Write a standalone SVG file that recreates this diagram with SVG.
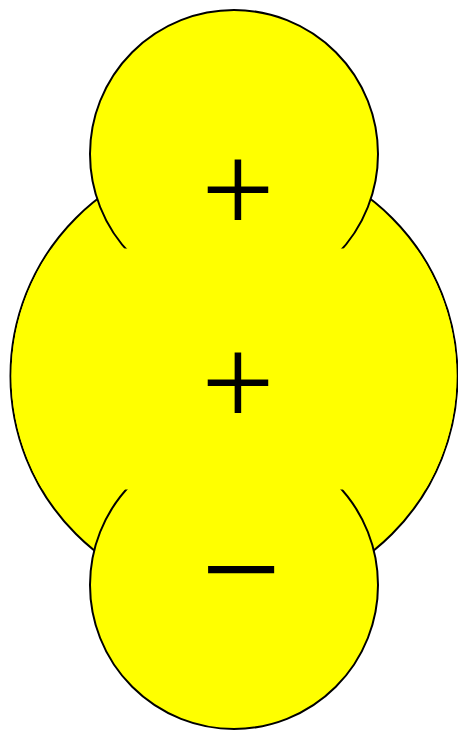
<svg xmlns="http://www.w3.org/2000/svg" width="458" height="730" viewBox="0 0 458 730">
  <defs>
    <style>
      .shape { fill: #ffff00; stroke: #000000; stroke-width: 2; }
      .cover { fill: #ffff00; stroke: none; }
      .sign { font-family: "Liberation Serif", serif; font-size: 130px; fill: #000000; text-anchor: middle; }
      .minus { font-size: 142px; }
    </style>
    <clipPath id="inner">
      <circle cx="234" cy="376" r="222.5"/>
    </clipPath>
  </defs>
  <g id="body">
    <circle class="shape" cx="234" cy="376" r="223.5"/>
  </g>
  <g id="top-lobe">
    <circle class="shape" cx="234" cy="154" r="144"/>
  </g>
  <g id="bottom-lobe">
    <circle class="shape" cx="234" cy="585" r="144"/>
  </g>
  <g id="fill-cover">
    <rect class="cover" x="0" y="248.5" width="458" height="241" clip-path="url(#inner)"/>
  </g>
  <g id="labels">
    <text class="sign" x="238" y="233">+</text>
    <text class="sign" x="238" y="426">+</text>
    <text class="sign minus" x="241" y="617">−</text>
  </g>
  <g id="connectors"/>
</svg>
